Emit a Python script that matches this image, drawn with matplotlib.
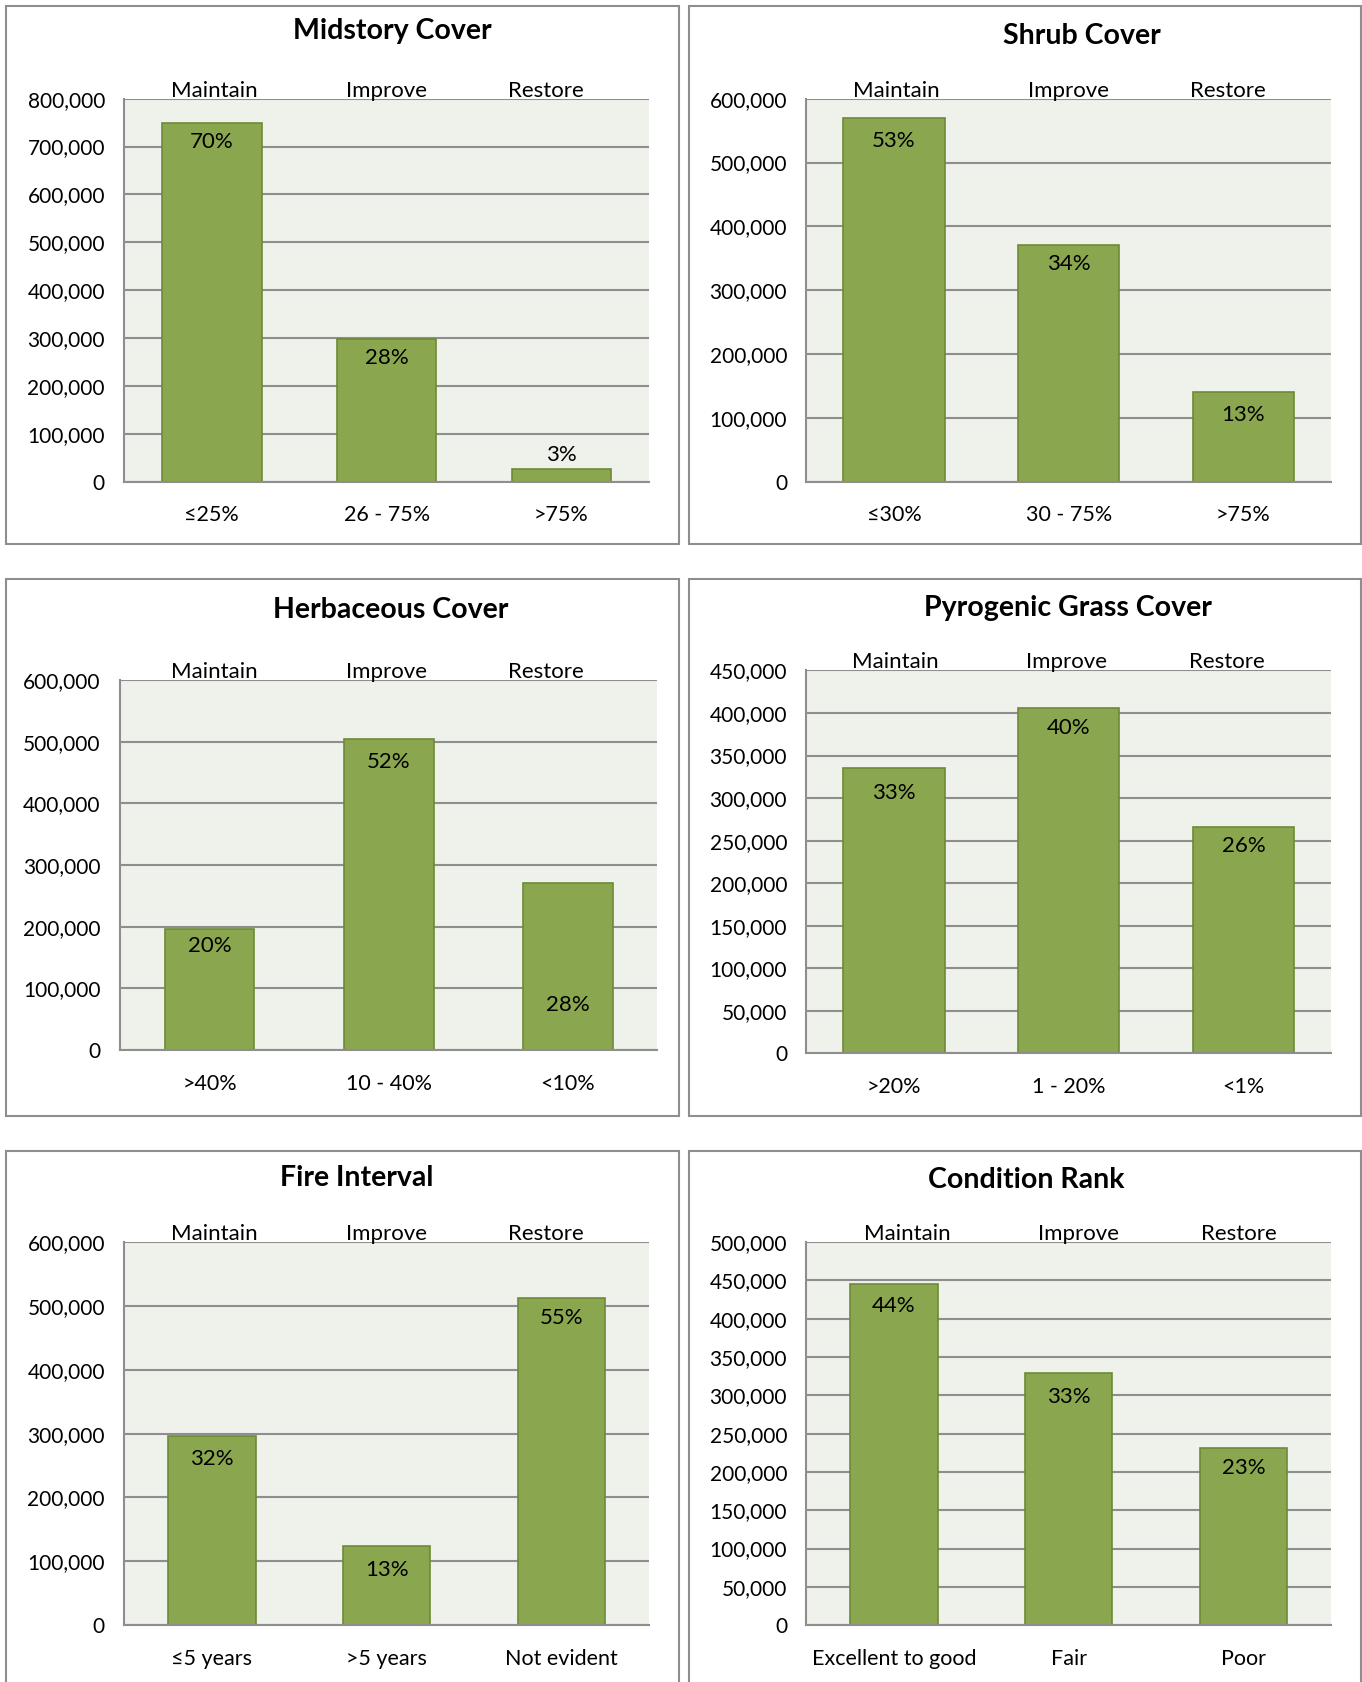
import matplotlib
matplotlib.use("Agg")
import matplotlib.pyplot as plt
from matplotlib.patches import Rectangle
from matplotlib.ticker import FuncFormatter

plt.rcParams["font.family"] = ["Lato", "DejaVu Sans"]

# data
actions = ["Maintain", "Improve", "Restore"]
titles = ["Midstory Cover", "Shrub Cover", "Herbaceous Cover",
          "Pyrogenic Grass Cover", "Fire Interval", "Condition Rank"]
cats_midstory = ["≤25%", "26 - 75%", ">75%"]
cats_shrub = ["≤30%", "30 - 75%", ">75%"]
cats_herb = [">40%", "10 - 40%", "<10%"]
cats_grass = [">20%", "1 - 20%", "<1%"]
cats_fire = ["≤5 years", ">5 years", "Not evident"]
cats_cond = ["Excellent to good", "Fair", "Poor"]
vals_midstory = [750000, 298000, 27000]
vals_shrub = [570000, 370000, 141000]
vals_herb = [197000, 504000, 271000]
vals_grass = [335000, 406000, 266000]
vals_fire = [296000, 124000, 513000]
vals_cond = [445000, 329000, 231000]
pct_midstory = ["70%", "28%", "3%"]
pct_shrub = ["53%", "34%", "13%"]
pct_herb = ["20%", "52%", "28%"]
pct_grass = ["33%", "40%", "26%"]
pct_fire = ["32%", "13%", "55%"]
pct_cond = ["44%", "33%", "23%"]
ymax = [800000, 600000, 600000, 450000, 600000, 500000]
ystep = [100000, 100000, 100000, 50000, 100000, 50000]

cats = [cats_midstory, cats_shrub, cats_herb, cats_grass, cats_fire, cats_cond]
vals = [vals_midstory, vals_shrub, vals_herb, vals_grass, vals_fire, vals_cond]
pcts = [pct_midstory, pct_shrub, pct_herb, pct_grass, pct_fire, pct_cond]

# layout (in pixels of a 1270x1568 frame)
W, H = 1270.0, 1568.0
boxes = [(6, 6, 633, 507), (642, 6, 1269, 507), (6, 540, 633, 1040),
         (642, 540, 1269, 1040), (6, 1073, 633, 1590), (642, 1073, 1269, 1590)]
plots = [(116, 92, 605, 449), (752, 92, 1241, 449), (112, 634, 613, 979),
         (752, 625, 1241, 982), (116, 1158, 605, 1515), (752, 1158, 1241, 1515)]
title_pos = [(366, 29), (1009, 34), (364, 569), (996, 567), (333, 1098), (957, 1100)]
action_x = [(200, 360, 509), (836, 996, 1145), (200, 360, 509),
            (835, 994, 1144), (200, 360, 509), (846, 1006, 1155)]
bar_w = [0.57, 0.58, 0.50, 0.58, 0.50, 0.50]
# label offset from bar top, in pixels (negative = inside bar)
lab_off = [[-18, -18, 13], [-22, -17, -22], [-16, -21, -114],
           [-23, -19, -18], [-21, -22, -19], [-20, -22, -18]]

bar_color = "#8AA64F"
edge_color = "#6E8A38"
bg_color = "#EFF2EA"
grid_color = "#8E8E8E"

fig = plt.figure(figsize=(13.62, 16.82), dpi=100)

for i in range(6):
    x0, y0, x1, y1 = boxes[i]
    fig.patches.append(Rectangle((x0 / W, 1 - y1 / H), (x1 - x0) / W, (y1 - y0) / H,
                                 transform=fig.transFigure, fill=False,
                                 edgecolor=grid_color, linewidth=1.5))

    px0, py0, px1, py1 = plots[i]
    ax = fig.add_axes([px0 / W, 1 - py1 / H, (px1 - px0) / W, (py1 - py0) / H])
    ax.set_facecolor(bg_color)
    ax.set_axisbelow(True)
    xs = range(len(vals[i]))
    bars = ax.bar(xs, vals[i], width=bar_w[i], color=bar_color,
                  edgecolor=edge_color, linewidth=1.2)
    ax.set_xlim(-0.5, 2.5)
    ax.set_ylim(0, ymax[i])
    ax.set_yticks(range(0, ymax[i] + 1, ystep[i]))
    ax.yaxis.set_major_formatter(FuncFormatter(lambda v, p: f"{int(v):,}"))
    ax.set_xticks(list(xs))
    ax.set_xticklabels(cats[i])
    ax.tick_params(axis="both", length=0)
    ax.tick_params(axis="y", pad=14, labelsize=15)
    ax.tick_params(axis="x", pad=17, labelsize=15.5)
    ax.grid(axis="y", color=grid_color, linewidth=1.5)
    for s in ["right", "top"]:
        ax.spines[s].set_visible(False)
    for s in ["left", "bottom"]:
        ax.spines[s].set_color(grid_color)
        ax.spines[s].set_linewidth(1.5)

    for b, t, off in zip(bars, pcts[i], lab_off[i]):
        ax.annotate(t, (b.get_x() + b.get_width() / 2, b.get_height()),
                    xytext=(0, off * 0.72 * 1.0724),
                    textcoords="offset points", ha="center", va="center",
                    fontsize=16)

    # Maintain / Improve / Restore sit right on the top gridline
    for a, axp in zip(actions, action_x[i]):
        fig.text(axp / W, 1 - (py0 - 2) / H, a, ha="center", va="baseline",
                 fontsize=16)

    tx, ty = title_pos[i]
    fig.text(tx / W, 1 - ty / H, titles[i], ha="center", va="center",
             fontsize=20.5, fontweight="bold")

fig.savefig("out.png", dpi=100, facecolor="white")
